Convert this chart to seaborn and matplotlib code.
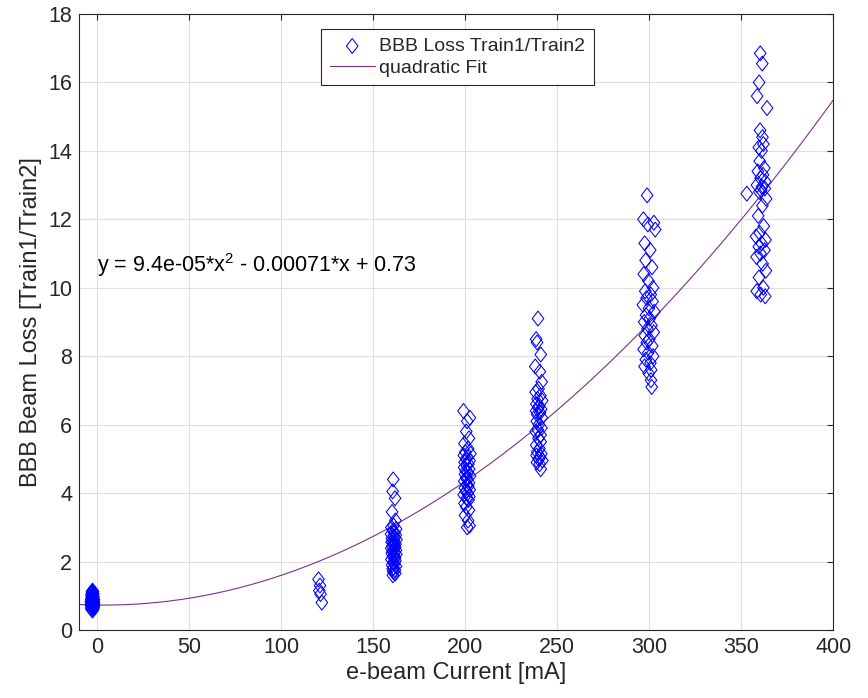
import numpy as np
import pandas as pd
import matplotlib
matplotlib.use("Agg")
import matplotlib.pyplot as plt
from matplotlib.path import Path
import seaborn as sns

# Measured loss ratio per beam-current setting
current_0 = [-2.6, -3.1, -2.2, -3.4, -2.8, -1.9, -3.2, -2.5, -2.0, -3.5,
             -2.7, -2.3, -3.0, -1.8, -2.9, -3.3, -2.4, -2.1, -3.6, -2.6,
             -2.0, -3.1, -2.8, -2.2, -3.4, -1.9, -2.7, -3.0, -2.4, -3.2,
             -2.1, -2.9, -2.5, -3.3, -2.2, -2.8, -2.6, -3.0, -2.4, -2.7]
loss_0 = [0.57, 0.60, 0.62, 0.64, 0.66, 0.68, 0.70, 0.71, 0.72, 0.73,
          0.74, 0.75, 0.76, 0.77, 0.78, 0.79, 0.80, 0.81, 0.82, 0.83,
          0.84, 0.85, 0.86, 0.87, 0.88, 0.89, 0.90, 0.92, 0.93, 0.95,
          0.97, 0.99, 1.01, 1.03, 1.05, 1.07, 1.09, 1.11, 1.13, 1.15]

current_120 = [120.2, 121.0, 120.6, 121.3, 122.0]
loss_120 = [1.48, 1.30, 1.15, 1.05, 0.80]

current_160 = [160.8, 160.5, 161.8, 160.2, 162.0, 161.0, 159.8, 162.4, 160.6, 161.5,
               159.6, 162.2, 160.9, 161.7, 160.1, 162.6, 161.2, 159.9, 160.7, 162.1,
               161.4, 160.3, 161.9, 159.7, 161.1, 162.3, 160.4, 161.6, 160.0, 162.5,
               161.3, 160.6, 161.8, 159.8, 162.0, 160.9, 161.5, 160.2, 162.3, 161.0,
               160.5, 161.7, 160.8, 161.9, 160.6]
loss_160 = [4.40, 4.05, 3.85, 3.45, 3.20, 3.05, 3.00, 2.95, 2.90, 2.85,
            2.80, 2.77, 2.74, 2.70, 2.67, 2.64, 2.60, 2.57, 2.54, 2.51,
            2.48, 2.45, 2.42, 2.39, 2.36, 2.33, 2.30, 2.27, 2.24, 2.21,
            2.18, 2.14, 2.10, 2.06, 2.02, 1.98, 1.94, 1.90, 1.86, 1.82,
            1.78, 1.74, 1.70, 1.65, 1.60]

current_200 = [199.0, 202.5, 201.0, 200.5, 202.0, 199.5, 201.5, 200.0, 202.8, 199.2,
               201.2, 200.4, 202.3, 199.6, 201.7, 200.8, 199.3, 202.1, 200.2, 201.4,
               199.8, 202.6, 200.6, 201.0, 199.4, 202.0, 200.9, 201.6, 199.7, 202.4,
               200.3, 201.3, 199.1, 202.2, 200.7, 201.8, 199.5, 200.5, 202.0, 199.8,
               201.5, 202.3, 201.0]
loss_200 = [6.40, 6.20, 6.10, 5.80, 5.60, 5.45, 5.30, 5.20, 5.15, 5.10,
            5.05, 5.00, 4.95, 4.90, 4.85, 4.80, 4.75, 4.70, 4.65, 4.60,
            4.55, 4.50, 4.45, 4.40, 4.35, 4.30, 4.25, 4.20, 4.15, 4.10,
            4.05, 4.00, 3.95, 3.90, 3.85, 3.80, 3.70, 3.60, 3.50, 3.35,
            3.20, 3.05, 3.00]

current_240 = [239.5, 238.5, 239.0, 241.0, 238.0, 240.5, 241.5, 239.8, 238.2, 240.8,
               239.2, 241.8, 238.6, 240.2, 239.6, 241.2, 238.4, 240.6, 239.0, 241.6,
               238.8, 240.0, 241.4, 239.4, 238.2, 240.9, 239.7, 241.0, 238.5, 240.3,
               239.1, 241.3, 238.7, 240.7, 239.9, 241.9, 238.9, 240.4, 241.0]
loss_240 = [9.10, 8.50, 8.40, 8.05, 7.70, 7.55, 7.25, 7.05, 6.95, 6.85,
            6.75, 6.70, 6.60, 6.55, 6.50, 6.45, 6.40, 6.35, 6.30, 6.20,
            6.10, 6.00, 5.90, 5.85, 5.80, 5.70, 5.60, 5.50, 5.40, 5.30,
            5.20, 5.15, 5.10, 5.05, 5.00, 4.95, 4.90, 4.85, 4.70]

current_300 = [298.8, 296.8, 302.5, 299.2, 303.2, 297.5, 300.5, 298.0, 301.5, 297.0,
               299.5, 302.0, 297.8, 300.8, 298.5, 301.8, 296.5, 299.8, 302.8, 298.2,
               300.2, 297.2, 301.2, 299.0, 302.4, 297.6, 300.0, 298.6, 301.6, 296.9,
               299.4, 302.1, 298.1, 300.6, 297.4, 301.0, 299.6, 300.9, 301.3]
loss_300 = [12.70, 12.00, 11.90, 11.85, 11.70, 11.30, 11.10, 10.80, 10.60, 10.40,
            10.20, 10.00, 9.90, 9.80, 9.70, 9.60, 9.50, 9.40, 9.30, 9.20,
            9.10, 9.00, 8.90, 8.80, 8.70, 8.60, 8.50, 8.40, 8.30, 8.20,
            8.10, 8.00, 7.90, 7.80, 7.70, 7.60, 7.50, 7.30, 7.10]

current_360 = [360.3, 361.4, 359.7, 358.6, 364.0, 360.2, 361.5, 362.0, 359.5, 361.0,
               360.0, 362.5, 359.0, 361.8, 360.5, 363.0, 358.5, 361.2, 362.8, 360.8,
               359.8, 353.0, 363.5, 361.5, 359.2, 362.2, 360.0, 358.0, 363.2, 361.0,
               359.5, 362.6, 360.4, 358.3, 361.6, 363.4, 359.6, 362.0, 358.4, 360.6,
               363.0]
loss_360 = [16.85, 16.55, 16.00, 15.60, 15.25, 14.60, 14.40, 14.20, 14.10, 14.00,
            13.70, 13.50, 13.40, 13.30, 13.20, 13.10, 13.00, 12.95, 12.90, 12.85,
            12.80, 12.75, 12.60, 12.40, 12.10, 11.80, 11.60, 11.50, 11.40, 11.30,
            11.20, 11.10, 11.00, 10.90, 10.70, 10.50, 10.30, 10.00, 9.90, 9.80,
            9.75]

# Quadratic fit coefficients (x^2, x, 1)
fit_coeffs = [9.4e-05, -0.00071, 0.73]

x_ticks = [0, 50, 100, 150, 200, 250, 300, 350, 400]
y_ticks = [0, 2, 4, 6, 8, 10, 12, 14, 16, 18]

df = pd.DataFrame({
    "current": current_0 + current_120 + current_160 + current_200
               + current_240 + current_300 + current_360,
    "loss": loss_0 + loss_120 + loss_160 + loss_200
            + loss_240 + loss_300 + loss_360,
})

x_fit = np.linspace(-10, 400, 400)
fit_df = pd.DataFrame({"current": x_fit, "loss": np.polyval(fit_coeffs, x_fit)})

sns.set_theme(style="white")
plt.rcParams["font.family"] = ["Liberation Sans", "DejaVu Sans"]
plt.rcParams["mathtext.default"] = "regular"

dark = "#262626"
fig, ax = plt.subplots(figsize=(8.68, 6.98), dpi=100)
fig.subplots_adjust(left=0.091, right=0.960, bottom=0.0974, top=0.980)

# Open diamond marker, slightly taller than wide
diamond = Path([(0, 1), (0.78, 0), (0, -1), (-0.78, 0), (0, 1)],
               [Path.MOVETO, Path.LINETO, Path.LINETO, Path.LINETO, Path.CLOSEPOLY])

sns.scatterplot(data=df, x="current", y="loss", marker=diamond, s=115,
                facecolors="none", edgecolor=(0, 0, 1), linewidth=0.75,
                label="BBB Loss Train1/Train2", ax=ax, zorder=3)
sns.lineplot(data=fit_df, x="current", y="loss", color=(0.494, 0.184, 0.556),
             linewidth=0.8, label="quadratic Fit", ax=ax, zorder=2)

a, b, c = fit_coeffs
eq = f"y = {a:.2g}*x$^2$ - {abs(b):.2g}*x + {c:.2g}"
ax.text(0, 10.67, eq, fontsize=15.5, va="center", color="black")

ax.set_xlim(-10, 400)
ax.set_ylim(0, 18)
ax.set_xticks(x_ticks)
ax.set_yticks(y_ticks)
ax.grid(True, color="#dedede", linewidth=0.8)
ax.set_axisbelow(True)
for sp in ax.spines.values():
    sp.set_color(dark)
    sp.set_linewidth(0.8)
ax.tick_params(direction="in", length=4, width=0.8, color=dark,
               top=True, right=True, labelsize=15.5, labelcolor=dark, pad=5)

ax.set_xlabel("e-beam Current [mA]", fontsize=17, color=dark, labelpad=3)
ax.set_ylabel("BBB Beam Loss [Train1/Train2]", fontsize=17, color=dark, labelpad=4)

leg = ax.legend(loc="upper center", bbox_to_anchor=(0.502, 0.976), frameon=True,
                fancybox=False, edgecolor=dark, framealpha=1, fontsize=14,
                handlelength=2.3, borderpad=0.45, labelspacing=0.2,
                handletextpad=0.25, borderaxespad=0)
leg.get_frame().set_linewidth(0.8)

fig.savefig("out.png", dpi=100)
